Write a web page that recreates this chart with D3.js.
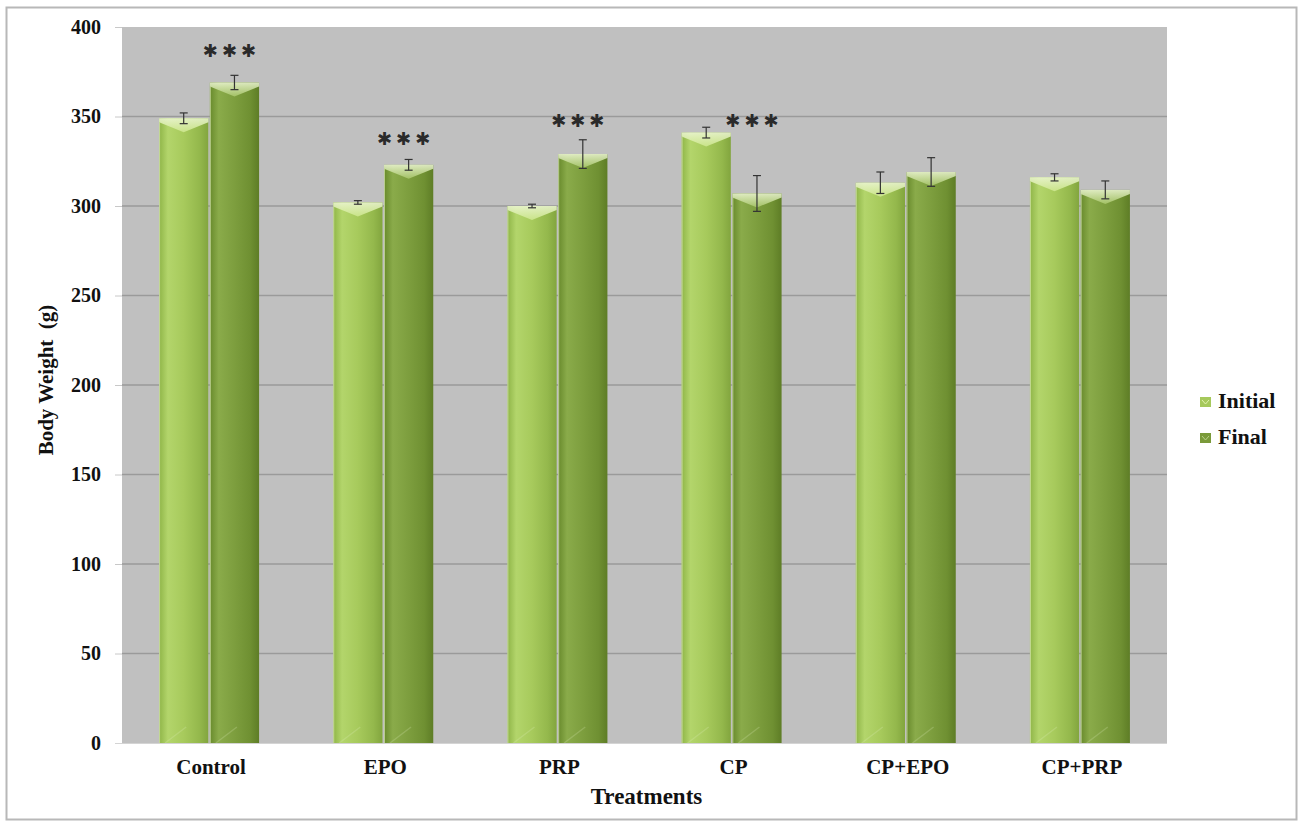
<!DOCTYPE html>
<html>
<head>
<meta charset="utf-8">
<script src="https://cdn.jsdelivr.net/npm/d3@7"></script>
<style>
  html, body { margin: 0; padding: 0; background: #fff; }
  svg { display: block; }
  text { font-family: "Liberation Serif", "Times New Roman", serif; font-weight: bold; fill: #111; }
</style>
</head>
<body>
<svg id="chart" width="1304" height="828"></svg>
<script>
// Body weight per treatment group (mean ± error)
const categories = ["Control", "EPO", "PRP", "CP", "CP+EPO", "CP+PRP"];
const seriesNames = ["Initial", "Final"];
const initialValues = [349, 302, 300, 341, 313, 316];
const initialErrors = [3, 1, 1, 3, 6, 2];
const finalValues = [369, 323, 329, 307, 319, 309];
const finalErrors = [4, 3, 8, 10, 8, 5];
// significance marks on the final bars, with the weight level they sit at
const sigLabels = ["***", "***", "***", "***", "", ""];
const sigLevels = [387, 338, 348, 348, 0, 0];
const yTicks = [0, 50, 100, 150, 200, 250, 300, 350, 400];

const svg = d3.select("#chart");
const plot = { left: 122, right: 1167, top: 27, bottom: 743 };

// outer frame
svg.append("rect")
  .attr("x", 6.5).attr("y", 7.5).attr("width", 1290).attr("height", 812)
  .attr("fill", "#fff").attr("stroke", "#b8b8b8").attr("stroke-width", 2);

const x0 = d3.scaleBand().domain(categories).range([plot.left, plot.right]).padding(0);
const groupW = 100;
const x1 = d3.scaleBand().domain(seriesNames).range([0, groupW]).paddingInner(0.03);
const y = d3.scaleLinear().domain([0, 400]).range([plot.bottom, plot.top]);

// plot background
svg.append("rect")
  .attr("x", plot.left).attr("y", plot.top)
  .attr("width", plot.right - plot.left).attr("height", plot.bottom - plot.top)
  .attr("fill", "#c0c0c0");

// gradients for the bar faces
const defs = svg.append("defs");
const palettes = {
  Initial: { stops: ["#8fb548", "#b3d56b", "#a7ca5c", "#94b84c", "#82a53e"], cap: "#cfe890", legend: "#a6c95c" },
  Final:   { stops: ["#688a2c", "#8aab4a", "#7d9e3e", "#6f9032", "#5e7d26"], cap: "#a9c76c", legend: "#7a9a3a" }
};
seriesNames.forEach(s => {
  const g = defs.append("linearGradient").attr("id", "grad-" + s)
    .attr("x1", "0").attr("x2", "1").attr("y1", "0").attr("y2", "0");
  const offs = [0, 0.18, 0.5, 0.82, 1];
  palettes[s].stops.forEach((c, i) => g.append("stop").attr("offset", offs[i]).attr("stop-color", c));
  const cg = defs.append("linearGradient").attr("id", "cap-" + s)
    .attr("x1", "0").attr("x2", "0").attr("y1", "0").attr("y2", "1");
  cg.append("stop").attr("offset", 0).attr("stop-color", "#eef7d6");
  cg.append("stop").attr("offset", 1).attr("stop-color", palettes[s].cap);
});

// gridlines
const grid = svg.append("g");
yTicks.filter(t => t > 0 && t < 400).forEach(t => {
  grid.append("line")
    .attr("x1", plot.left).attr("x2", plot.right)
    .attr("y1", y(t)).attr("y2", y(t))
    .attr("stroke", "#9a9a9a").attr("stroke-width", 1.3);
});

// y axis
const yAxis = svg.append("g").attr("transform", `translate(${plot.left},0)`)
  .call(d3.axisLeft(y).tickValues(yTicks).tickSize(7).tickPadding(14));
yAxis.select(".domain").remove();
yAxis.selectAll(".tick line").attr("stroke", "#c8c8c8");
yAxis.selectAll(".tick text").style("font-size", "20px").style("fill", "#111");

// x axis baseline
svg.append("line").attr("x1", plot.left - 7).attr("x2", plot.right)
  .attr("y1", plot.bottom + 0.5).attr("y2", plot.bottom + 0.5).attr("stroke", "#d4d4d4");

// category labels
svg.append("g").selectAll("text").data(categories).join("text")
  .attr("x", d => x0(d) + x0.bandwidth() / 2 + 2)
  .attr("y", plot.bottom + 31)
  .attr("text-anchor", "middle")
  .style("font-size", "21px")
  .text(d => d);

// bars
const rows = categories.map((c, i) => ({
  cat: c,
  items: [
    { series: "Initial", value: initialValues[i], err: initialErrors[i] },
    { series: "Final", value: finalValues[i], err: finalErrors[i] }
  ]
}));

const groups = svg.append("g").selectAll("g").data(rows).join("g")
  .attr("transform", d => `translate(${x0(d.cat) + (x0.bandwidth() - groupW) / 2},0)`);

const bars = groups.selectAll("g.bar").data(d => d.items).join("g").attr("class", "bar");

bars.append("rect")
  .attr("x", d => x1(d.series)).attr("width", x1.bandwidth())
  .attr("y", d => y(d.value)).attr("height", d => y(0) - y(d.value))
  .attr("fill", d => `url(#grad-${d.series})`);

// bevelled top cap (V shaped highlight)
bars.append("path")
  .attr("d", d => {
    const xl = x1(d.series), w = x1.bandwidth(), t = y(d.value);
    return `M${xl},${t} L${xl + w},${t} L${xl + w},${t + 4} L${xl + w / 2},${t + 14} L${xl},${t + 4} Z`;
  })
  .attr("fill", d => `url(#cap-${d.series})`).attr("opacity", 0.85);

// faint diagonal bevel at the foot of each bar
bars.append("path")
  .attr("d", d => {
    const xl = x1(d.series), w = x1.bandwidth(), b = y(0);
    return `M${xl + 6},${b} L${xl + w * 0.55},${b - 16}`;
  })
  .attr("stroke", "#e4f0c4").attr("stroke-width", 1.5).attr("opacity", 0.22).attr("fill", "none");

// light separating edge
bars.append("line")
  .attr("x1", d => x1(d.series) + 0.5).attr("x2", d => x1(d.series) + 0.5)
  .attr("y1", d => y(d.value) + 4).attr("y2", y(0))
  .attr("stroke", "#dbe9b8").attr("stroke-width", 1).attr("opacity", 0.7);

// error bars
const eb = bars.append("g").attr("stroke", "#333").attr("stroke-width", 1.2);
eb.append("line")
  .attr("x1", d => x1(d.series) + x1.bandwidth() / 2).attr("x2", d => x1(d.series) + x1.bandwidth() / 2)
  .attr("y1", d => y(d.value + d.err)).attr("y2", d => y(d.value - d.err));
[1, -1].forEach(sgn => {
  eb.append("line")
    .attr("x1", d => x1(d.series) + x1.bandwidth() / 2 - 4).attr("x2", d => x1(d.series) + x1.bandwidth() / 2 + 4)
    .attr("y1", d => y(d.value + sgn * d.err)).attr("y2", d => y(d.value + sgn * d.err));
});

// significance marks
svg.append("g").selectAll("text").data(categories).join("text")
  .attr("x", (d, i) => x0(d) + (x0.bandwidth() - groupW) / 2 + x1("Final") + x1.bandwidth() / 2 - 3)
  .attr("y", (d, i) => y(sigLevels[i]) + 7)
  .attr("text-anchor", "middle")
  .style("font-family", "'DejaVu Sans', sans-serif")
  .style("font-weight", "normal")
  .style("font-size", "18px")
  .style("letter-spacing", "4px")
  .style("fill", "#2a2a2a")
  .text((d, i) => sigLabels[i].replace(/\*/g, "\u2731"));

// axis titles
svg.append("text")
  .attr("x", (plot.left + plot.right) / 2 + 2).attr("y", 804)
  .attr("text-anchor", "middle").style("font-size", "23px")
  .text("Treatments");
svg.append("text")
  .attr("transform", `translate(53,380) rotate(-90)`)
  .attr("text-anchor", "middle").style("font-size", "21px")
  .style("white-space", "pre")
  .text("Body Weight  (g)");

// legend
const legend = svg.append("g").attr("transform", "translate(1200,397)");
seriesNames.forEach((s, i) => {
  const g = legend.append("g").attr("transform", `translate(0,${i * 36})`);
  g.append("rect").attr("width", 11).attr("height", 10)
    .attr("fill", palettes[s].legend);
  g.append("path").attr("d", "M2,3 L5.5,7 L9,3").attr("fill", "none")
    .attr("stroke", s === "Initial" ? "#e2f2b0" : "#b8d08a").attr("stroke-width", 1);
  g.append("text").attr("x", 18).attr("y", 11).style("font-size", "22px").text(s);
});
</script>
</body>
</html>
